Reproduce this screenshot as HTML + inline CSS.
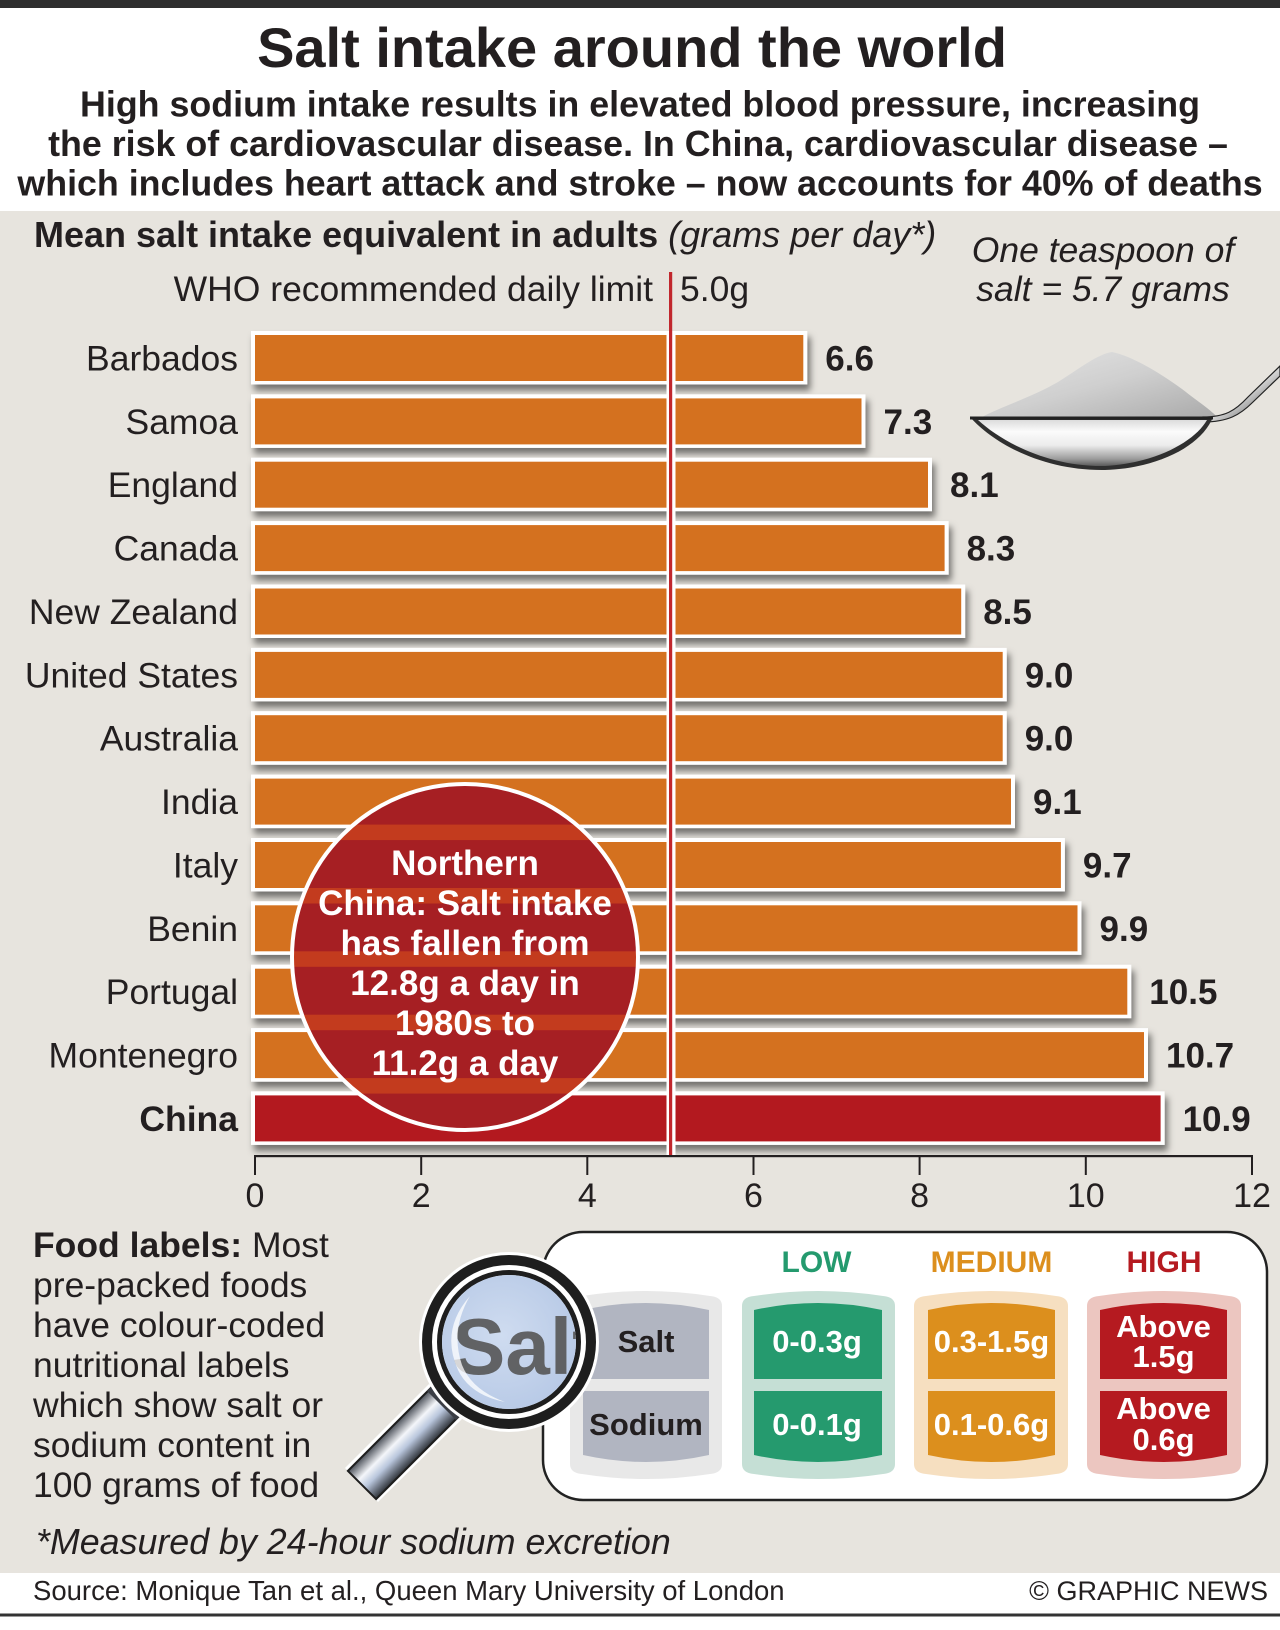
<!DOCTYPE html>
<html>
<head>
<meta charset="utf-8">
<style>
  html,body{margin:0;padding:0;background:#e7e4de;}
  svg{display:block;}
  text{font-family:"Liberation Sans", Arial, Helvetica, sans-serif;fill:#231f20;}
</style>
</head>
<body>
<svg width="1280" height="1630" viewBox="0 0 1280 1630" xmlns="http://www.w3.org/2000/svg">
  <defs>
    <filter id="sh" x="-5%" y="-30%" width="115%" height="180%">
      <feDropShadow dx="3" dy="6" stdDeviation="3.5" flood-color="#000" flood-opacity="0.5"/>
    </filter>
    <clipPath id="circ"><circle cx="465" cy="957" r="173"/></clipPath>
    <clipPath id="lens"><circle cx="509" cy="1342" r="67"/></clipPath>
    <linearGradient id="bowl" x1="0" y1="0" x2="0" y2="1">
      <stop offset="0" stop-color="#dcdcdc"/>
      <stop offset="0.25" stop-color="#fbfbfb"/>
      <stop offset="0.55" stop-color="#ececec"/>
      <stop offset="0.85" stop-color="#9a9a9a"/>
      <stop offset="1" stop-color="#5a5a5a"/>
    </linearGradient>
    <linearGradient id="salt" x1="0" y1="0" x2="1" y2="1">
      <stop offset="0" stop-color="#e6e6e6"/>
      <stop offset="0.5" stop-color="#cfcfcf"/>
      <stop offset="1" stop-color="#a9a9a9"/>
    </linearGradient>
    <linearGradient id="spoonH" x1="0" y1="0" x2="1" y2="1">
      <stop offset="0" stop-color="#555"/>
      <stop offset="0.5" stop-color="#ddd"/>
      <stop offset="1" stop-color="#333"/>
    </linearGradient>
    <radialGradient id="lensG" cx="0.45" cy="0.45" r="0.6">
      <stop offset="0" stop-color="#cfdcf0"/>
      <stop offset="1" stop-color="#b7c9e6"/>
    </radialGradient>
    <linearGradient id="handleG" x1="347.9" y1="1470.9" x2="376.1" y2="1499.1" gradientUnits="userSpaceOnUse">
      <stop offset="0" stop-color="#4a4f58"/>
      <stop offset="0.35" stop-color="#f4f6fa"/>
      <stop offset="0.6" stop-color="#b9c6dc"/>
      <stop offset="1" stop-color="#2e3238"/>
    </linearGradient>
  </defs>

  <!-- backgrounds -->
  <rect x="0" y="0" width="1280" height="1630" fill="#e7e4de"/>
  <rect x="0" y="0" width="1280" height="211" fill="#ffffff"/>
  <rect x="0" y="0" width="1280" height="8" fill="#2e2e2e"/>
  <rect x="0" y="1573" width="1280" height="57" fill="#ffffff"/>
  <rect x="0" y="1613.5" width="1280" height="3" fill="#333333"/>

  <!-- header -->
  <text x="632" y="67" font-size="56" font-weight="bold" text-anchor="middle">Salt intake around the world</text>
  <text x="640" y="116.5" font-size="35.8" font-weight="bold" text-anchor="middle">High sodium intake results in elevated blood pressure, increasing</text>
  <text x="638" y="156" font-size="35.8" font-weight="bold" text-anchor="middle">the risk of cardiovascular disease. In China, cardiovascular disease –</text>
  <text x="640" y="195.5" font-size="35.8" font-weight="bold" text-anchor="middle">which includes heart attack and stroke – now accounts for 40% of deaths</text>

  <text x="34" y="247" font-size="36"><tspan font-weight="bold">Mean salt intake equivalent in adults</tspan><tspan font-style="italic"> (grams per day*)</tspan></text>
  <text x="653" y="301" font-size="35.5" text-anchor="end">WHO recommended daily limit</text>
  <text x="680" y="301" font-size="35.5">5.0g</text>
  <text x="1103" y="262" font-size="35.5" font-style="italic" text-anchor="middle">One teaspoon of</text>
  <text x="1103" y="301" font-size="35.5" font-style="italic" text-anchor="middle">salt = 5.7 grams</text>

  <!-- spoon -->
  <path d="M980,418 C1000,407 1030,398 1058,382 C1080,368 1098,354 1112,352 C1132,356 1160,373 1182,389 C1200,403 1211,410 1218,418 Z" fill="url(#salt)"/>
  <path d="M1203,417 C1225,417 1235,411 1248,397 L1280,366 L1280,376 L1253,402 C1240,415 1228,422 1203,422 Z" fill="url(#spoonH)" stroke="#222" stroke-width="1.2"/>
  <path d="M970,417 L1213,417 C1202,445 1160,468 1105,470 C1045,471 995,445 970,417 Z" fill="#2f2f2f"/>
  <path d="M978,420 L1207,420 C1195,441 1157,463 1105,466 C1050,467 1003,443 978,420 Z" fill="url(#bowl)"/>
  <rect x="970" y="416.5" width="243" height="3" fill="#222"/>

  <!-- bars: outer white with shadow -->
  <g filter="url(#sh)" fill="#ffffff">
    <rect x="251" y="331.0" width="556.3" height="53.5"/>
    <rect x="251" y="394.4" width="614.5" height="53.5"/>
    <rect x="251" y="457.7" width="681.0" height="53.5"/>
    <rect x="251" y="521.1" width="697.6" height="53.5"/>
    <rect x="251" y="584.5" width="714.2" height="53.5"/>
    <rect x="251" y="647.9" width="755.7" height="53.5"/>
    <rect x="251" y="711.2" width="755.7" height="53.5"/>
    <rect x="251" y="774.6" width="764.0" height="53.5"/>
    <rect x="251" y="838.0" width="813.9" height="53.5"/>
    <rect x="251" y="901.3" width="830.5" height="53.5"/>
    <rect x="251" y="964.7" width="880.3" height="53.5"/>
    <rect x="251" y="1028.1" width="897.0" height="53.5"/>
    <rect x="251" y="1091.4" width="913.6" height="53.5"/>
  </g>
  <g fill="#d4711f">
    <rect x="255" y="335.0" width="548.3" height="46"/>
    <rect x="255" y="398.4" width="606.5" height="46"/>
    <rect x="255" y="461.7" width="673.0" height="46"/>
    <rect x="255" y="525.1" width="689.6" height="46"/>
    <rect x="255" y="588.5" width="706.2" height="46"/>
    <rect x="255" y="651.9" width="747.7" height="46"/>
    <rect x="255" y="715.2" width="747.7" height="46"/>
    <rect x="255" y="778.6" width="756.0" height="46"/>
    <rect x="255" y="842.0" width="805.9" height="46"/>
    <rect x="255" y="905.3" width="822.5" height="46"/>
    <rect x="255" y="968.7" width="872.3" height="46"/>
    <rect x="255" y="1032.1" width="889.0" height="46"/>
  </g>
  <rect x="255" y="1095.4" width="905.6" height="46" fill="#b3191f"/>

  <!-- WHO line -->
  <rect x="666.5" y="331" width="9" height="825" fill="#ffffff"/>
  <rect x="669" y="272" width="3.2" height="884" fill="#c1272d"/>

  <!-- country labels -->
  <g font-size="35.5" text-anchor="end">
    <text x="238" y="370.5">Barbados</text>
    <text x="238" y="433.9">Samoa</text>
    <text x="238" y="497.2">England</text>
    <text x="238" y="560.6">Canada</text>
    <text x="238" y="624.0">New Zealand</text>
    <text x="238" y="687.4">United States</text>
    <text x="238" y="750.7">Australia</text>
    <text x="238" y="814.1">India</text>
    <text x="238" y="877.5">Italy</text>
    <text x="238" y="940.8">Benin</text>
    <text x="238" y="1004.2">Portugal</text>
    <text x="238" y="1067.6">Montenegro</text>
    <text x="238" y="1130.9" font-weight="bold">China</text>
  </g>

  <!-- value labels -->
  <g font-size="35" font-weight="bold">
    <text x="825.3" y="370.5">6.6</text>
    <text x="883.5" y="433.9">7.3</text>
    <text x="950.0" y="497.2">8.1</text>
    <text x="966.6" y="560.6">8.3</text>
    <text x="983.2" y="624.0">8.5</text>
    <text x="1024.7" y="687.4">9.0</text>
    <text x="1024.7" y="750.7">9.0</text>
    <text x="1033.0" y="814.1">9.1</text>
    <text x="1082.9" y="877.5">9.7</text>
    <text x="1099.5" y="940.8">9.9</text>
    <text x="1149.3" y="1004.2">10.5</text>
    <text x="1166.0" y="1067.6">10.7</text>
    <text x="1182.6" y="1130.9">10.9</text>
  </g>

  <!-- circle annotation -->
  <circle cx="465" cy="957" r="173" fill="#a61f23"/>
  <g clip-path="url(#circ)" fill="#c33b1e">
    <rect x="280" y="824.6" width="370" height="15.5"/>
    <rect x="280" y="888.0" width="370" height="15.5"/>
    <rect x="280" y="951.3" width="370" height="15.5"/>
    <rect x="280" y="1014.7" width="370" height="15.5"/>
    <rect x="280" y="1078.1" width="370" height="15.5"/>
  </g>
  <circle cx="465" cy="957" r="173" fill="none" stroke="#ffffff" stroke-width="4"/>
  <g font-size="35" font-weight="bold" text-anchor="middle">
    <text x="465" y="875" style="fill:#fff">Northern</text>
    <text x="465" y="915" style="fill:#fff">China: Salt intake</text>
    <text x="465" y="955" style="fill:#fff">has fallen from</text>
    <text x="465" y="995" style="fill:#fff">12.8g a day in</text>
    <text x="465" y="1035" style="fill:#fff">1980s to</text>
    <text x="465" y="1075" style="fill:#fff">11.2g a day</text>
  </g>

  <!-- axis -->
  <rect x="254" y="1155" width="999" height="2.2" fill="#231f20"/>
  <g fill="#231f20">
    <rect x="254" y="1155" width="2" height="20"/>
    <rect x="420.2" y="1155" width="2" height="20"/>
    <rect x="586.3" y="1155" width="2" height="20"/>
    <rect x="752.5" y="1155" width="2" height="20"/>
    <rect x="918.6" y="1155" width="2" height="20"/>
    <rect x="1084.8" y="1155" width="2" height="20"/>
    <rect x="1251" y="1155" width="2" height="20"/>
  </g>
  <g font-size="34" text-anchor="middle">
    <text x="255" y="1207">0</text>
    <text x="421.2" y="1207">2</text>
    <text x="587.3" y="1207">4</text>
    <text x="753.5" y="1207">6</text>
    <text x="919.6" y="1207">8</text>
    <text x="1085.8" y="1207">10</text>
    <text x="1252" y="1207">12</text>
  </g>

  <!-- food labels text -->
  <g font-size="35.5">
    <text x="33" y="1257"><tspan font-weight="bold">Food labels:</tspan> Most</text>
    <text x="33" y="1297">pre-packed foods</text>
    <text x="33" y="1337">have colour-coded</text>
    <text x="33" y="1377">nutritional labels</text>
    <text x="33" y="1417">which show salt or</text>
    <text x="33" y="1457">sodium content in</text>
    <text x="33" y="1497">100 grams of food</text>
  </g>
  <text x="36" y="1554" font-size="35.8" font-style="italic">*Measured by 24-hour sodium excretion</text>

  <!-- label box -->
  <rect x="543" y="1232" width="724" height="268" rx="40" ry="40" fill="#ffffff" stroke="#222" stroke-width="2.5"/>
  <g font-size="30" font-weight="bold" text-anchor="middle">
    <text x="816.5" y="1272" style="fill:#249a6e">LOW</text>
    <text x="991.5" y="1272" style="fill:#dc8f1d">MEDIUM</text>
    <text x="1164" y="1272" style="fill:#b51a20">HIGH</text>
  </g>

  <!-- column outer pills -->
  <g>
    <path d="M570,1306 Q570,1297 582,1296 Q646,1286 710,1296 Q722,1297 722,1306 L722,1464 Q722,1473 710,1474 Q646,1484 582,1474 Q570,1473 570,1464 Z" fill="#e8e8e8"/>
    <path d="M742,1306 Q742,1297 754,1296 Q818,1286 883,1296 Q895,1297 895,1306 L895,1464 Q895,1473 883,1474 Q818,1484 754,1474 Q742,1473 742,1464 Z" fill="#c5dfd5"/>
    <path d="M914,1306 Q914,1297 926,1296 Q991,1286 1056,1296 Q1068,1297 1068,1306 L1068,1464 Q1068,1473 1056,1474 Q991,1484 926,1474 Q914,1473 914,1464 Z" fill="#f6dfc0"/>
    <path d="M1087,1306 Q1087,1297 1099,1296 Q1164,1286 1229,1296 Q1241,1297 1241,1306 L1241,1464 Q1241,1473 1229,1474 Q1164,1484 1099,1474 Q1087,1473 1087,1464 Z" fill="#ecc6c0"/>
  </g>
  <!-- inner cells -->
  <g>
    <path d="M583,1310 Q646,1296 709,1310 L709,1379 L583,1379 Z" fill="#b1b5c1"/>
    <path d="M583,1391 L709,1391 L709,1455 Q646,1469 583,1455 Z" fill="#b1b5c1"/>
    <path d="M754,1310 Q818,1296 882,1310 L882,1379 L754,1379 Z" fill="#259a6e"/>
    <path d="M754,1391 L882,1391 L882,1455 Q818,1469 754,1455 Z" fill="#259a6e"/>
    <path d="M928,1310 Q991,1296 1055,1310 L1055,1379 L928,1379 Z" fill="#dc8f1d"/>
    <path d="M928,1391 L1055,1391 L1055,1455 Q991,1469 928,1455 Z" fill="#dc8f1d"/>
    <path d="M1100,1310 Q1164,1296 1227,1310 L1227,1379 L1100,1379 Z" fill="#b51a20"/>
    <path d="M1100,1391 L1227,1391 L1227,1455 Q1164,1469 1100,1455 Z" fill="#b51a20"/>
  </g>
  <g font-size="31" font-weight="bold" text-anchor="middle">
    <text x="646" y="1352">Salt</text>
    <text x="646" y="1435">Sodium</text>
    <text x="817" y="1352" style="fill:#fff">0-0.3g</text>
    <text x="817" y="1435" style="fill:#fff">0-0.1g</text>
    <text x="991.5" y="1352" style="fill:#fff">0.3-1.5g</text>
    <text x="991.5" y="1435" style="fill:#fff">0.1-0.6g</text>
    <text x="1163.5" y="1337" style="fill:#fff">Above</text>
    <text x="1163.5" y="1367" style="fill:#fff">1.5g</text>
    <text x="1163.5" y="1419" style="fill:#fff">Above</text>
    <text x="1163.5" y="1450" style="fill:#fff">0.6g</text>
  </g>

  <!-- magnifier -->
  <polygon points="345,1468 378,1502 463,1418 429,1384" fill="#ffffff"/>
  <polygon points="347.9,1470.9 376.1,1499.1 459.5,1415.7 431.3,1387.5" fill="url(#handleG)" stroke="#1e1e1e" stroke-width="2"/>
  <polygon points="427,1391 456,1420 466,1410 437,1381" fill="#3a3d44"/>
  <circle cx="509" cy="1342" r="90" fill="#ffffff"/>
  <circle cx="509" cy="1342" r="82" fill="none" stroke="#1e1e1e" stroke-width="10"/>
  <circle cx="509" cy="1342" r="69.5" fill="none" stroke="#1e1e1e" stroke-width="5"/>
  <circle cx="509" cy="1342" r="67" fill="url(#lensG)"/>
  <g clip-path="url(#lens)">
    <text x="452" y="1374" font-size="80" font-weight="bold" style="fill:#555;fill-opacity:0.9">Salt</text>
    <path d="M470,1296 Q440,1330 458,1370 Q470,1395 505,1402 Q472,1390 462,1365 Q450,1330 470,1296 Z" fill="#ffffff" fill-opacity="0.75"/>
  </g>

  <!-- footer -->
  <text x="33" y="1600" font-size="27.5">Source: Monique Tan et al., Queen Mary University of London</text>
  <text x="1268" y="1600" font-size="27" text-anchor="end">© GRAPHIC NEWS</text>
</svg>
</body>
</html>
